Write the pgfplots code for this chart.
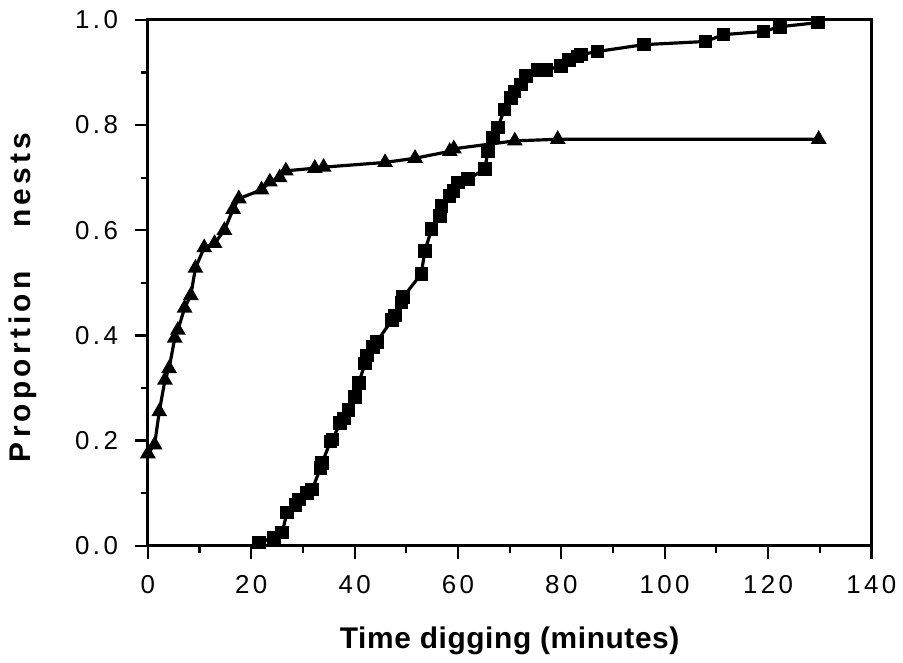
\documentclass[border=0pt]{standalone}
\usepackage{fontspec}
\setmainfont{Liberation Sans}
\newfontfamily\tickfont[LetterSpace=13]{Liberation Sans}
\newfontfamily\ylabfont[LetterSpace=14]{Liberation Sans}
\newfontfamily\xlabfont[LetterSpace=2]{Liberation Sans}
\usepackage{pgfplots}
\pgfplotsset{compat=1.18}

% time digging (min) vs cumulative proportion of nests
\pgfplotstableread{
x y
0 0.175
1.3 0.192
2.2 0.255
3.3 0.315
4.1 0.337
5.2 0.395
5.8 0.41
7.1 0.452
8.3 0.476
9.2 0.528
10.9 0.567
12.9 0.575
14.8 0.6
16.5 0.64
17.6 0.66
22.0 0.677
23.6 0.692
25.5 0.7
26.7 0.713
32.3 0.718
34.0 0.72
45.9 0.729
51.7 0.737
58.4 0.75
59.2 0.755
71.0 0.77
79.3 0.773
129.8 0.773
}\triangles

\pgfplotstableread{
x y
21.5 0.006
24.4 0.016
26.0 0.025
26.9 0.063
28.6 0.078
29.2 0.088
30.8 0.1
31.8 0.107
33.4 0.148
33.7 0.157
35.3 0.198
35.7 0.202
37.2 0.233
37.9 0.242
38.8 0.258
40.1 0.283
40.8 0.309
42.0 0.347
42.4 0.362
43.6 0.378
44.3 0.388
47.2 0.429
47.8 0.438
49.1 0.463
49.4 0.473
52.9 0.517
53.6 0.561
54.9 0.602
56.5 0.627
56.8 0.646
58.4 0.665
59.1 0.675
60.0 0.691
61.9 0.697
65.2 0.716
65.8 0.751
66.8 0.776
67.7 0.795
69.0 0.83
70.3 0.852
70.9 0.864
72.2 0.877
73.2 0.893
75.4 0.905
77.0 0.905
79.9 0.912
81.5 0.924
83.1 0.93
83.8 0.934
87.0 0.94
96.0 0.953
107.9 0.959
111.4 0.972
119.1 0.978
122.3 0.987
129.7 0.995
}\squares

\begin{document}
\begin{tikzpicture}
\begin{axis}[
    scale only axis,
    width=363.25pt,
    height=264pt,
    xmin=0, xmax=140,
    ymin=0, ymax=1,
    xtick={0,20,...,140},
    ytick={0,0.2,0.4,0.6,0.8,1.0},
    minor x tick num=1,
    minor y tick num=1,
    xtick pos=bottom,
    ytick pos=left,
    tick align=outside,
    major tick length=6.5pt,
    minor tick length=3.5pt,
    every tick/.style={black, line width=1.1pt},
    axis line style={line width=1.5pt},
    clip=false,
    /pgf/number format/assume math mode=true,
    ticklabel style={font=\tickfont\fontsize{13}{15}\selectfont},
    xticklabel style={yshift=-5pt},
    yticklabel style={xshift=-5pt, /pgf/number format/.cd, fixed, fixed zerofill, precision=1},
    xlabel={Time digging (minutes)},
    ylabel={Proportion\hspace{22pt}nests},
    xlabel style={font=\xlabfont\bfseries\fontsize{15}{18}\selectfont,
        at={(axis description cs:0.5,-0.195)}, anchor=base},
    ylabel style={font=\ylabfont\bfseries\fontsize{15}{18}\selectfont,
        at={(axis description cs:-0.1735,0.472)}, anchor=center, rotate=0},
]
\addplot[black, line width=1.6pt, mark=triangle*, mark size=3pt,
    mark options={solid, fill=black}] table[x=x, y=y] {\triangles};
\addplot[black, line width=1.6pt, mark=square*, mark size=2.6pt,
    mark options={solid, fill=black}] table[x=x, y=y] {\squares};
\end{axis}
\path[use as bounding box]
    ([shift={(-74.25pt,-58.5pt)}]current axis.south west)
    rectangle ([shift={(14pt,10pt)}]current axis.north east);
\end{tikzpicture}
\end{document}
